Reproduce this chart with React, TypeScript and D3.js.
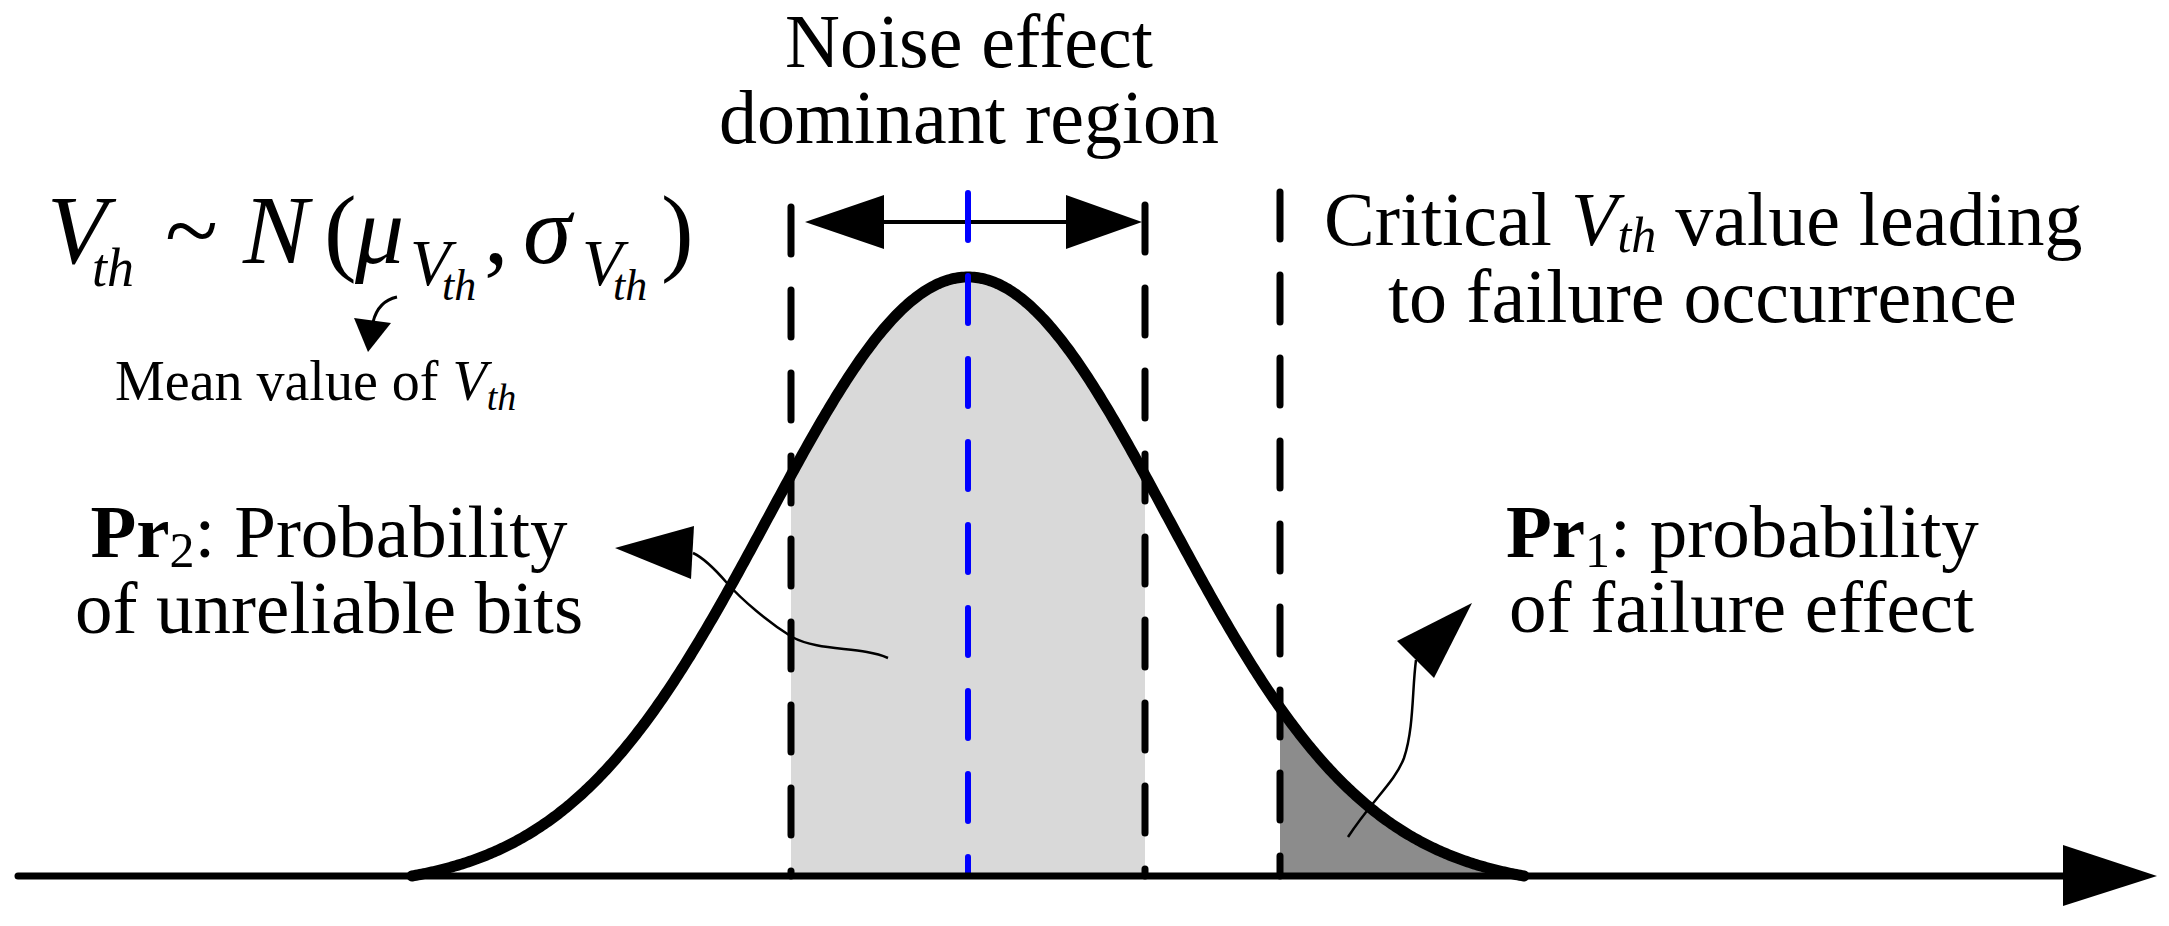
import React from "react";
import * as d3 from "d3";

// ---- data ----
const MU = 0; // mean of V_th (standardised units)
const SIGMA = 1; // std of V_th
const curveExtent = [-2.78, 2.78]; // drawn support of the bell curve (in sigma)
const noiseRegion = [-0.885, 0.885]; // noise-effect dominant region
const criticalV = 1.56; // critical V_th value
const axisDomain = [-4.75, 5.945];

const titleLines = ["Noise effect", "dominant region"];
const criticalLines = ["value leading", "to failure occurrence"];
const pr2Lines = ["Probability", "of unreliable bits"];
const pr1Lines = ["probability", "of failure effect"];
const meanLabel = "Mean value of ";

const W = 2169;
const H = 926;
const FONT = "'Liberation Serif', 'Times New Roman', Times, serif";

export default function App() {
  const x = d3.scaleLinear().domain(axisDomain).range([18, 2157]);
  const y = d3.scaleLinear().domain([0, 1]).range([876, 277]);

  const e0 = Math.exp(-(curveExtent[1] ** 2) / 2);
  const g = (v: number) => {
    const z = (v - MU) / SIGMA;
    return (Math.exp(-(z * z) / 2) - e0) / (1 - e0);
  };
  const samples = (a: number, b: number) => {
    const pts = d3.range(a, b, 0.01);
    pts.push(b);
    return pts;
  };

  const line = d3.line<number>().x((v) => x(v)).y((v) => y(g(v)));
  const area = d3
    .area<number>()
    .x((v) => x(v))
    .y0(y(0))
    .y1((v) => y(g(v)));

  const curvePath = line(samples(curveExtent[0], curveExtent[1])) || "";
  const lightArea = area(samples(noiseRegion[0], noiseRegion[1])) || "";
  const darkArea = area(samples(criticalV, curveExtent[1])) || "";

  const dash = "47 36";
  const vlines = [
    { v: noiseRegion[0], top: 207, color: "#000" },
    { v: noiseRegion[1], top: 205, color: "#000" },
    { v: criticalV, top: 192, color: "#000" },
  ];

  const y0 = y(0);
  const xm = x(MU);

  return (
    <svg
      width={W}
      height={H}
      viewBox={`0 0 ${W} ${H}`}
      style={{ position: "absolute", left: 0, top: 0, display: "block", background: "#fff" }}
      fontFamily={FONT}
    >
      <rect width={W} height={H} fill="#fff" />
      {/* fills */}
      <path d={lightArea} fill="#d9d9d9" />
      <path d={darkArea} fill="#8c8c8c" />

      {/* black dashed region lines */}
      {vlines.map((l, i) => (
        <line
          key={i}
          x1={x(l.v)}
          x2={x(l.v)}
          y1={l.top}
          y2={y0}
          stroke={l.color}
          strokeWidth={7}
          strokeDasharray={dash}
          strokeLinecap="round"
        />
      ))}

      {/* bell curve */}
      <path d={curvePath} fill="none" stroke="#000" strokeWidth={11} strokeLinecap="round" />

      {/* noise region double arrow */}
      <line x1={x(noiseRegion[0]) + 20} x2={x(noiseRegion[1]) - 10} y1={222} y2={222} stroke="#000" strokeWidth={4} />
      <polygon points={`${x(noiseRegion[0]) + 14},222 ${x(noiseRegion[0]) + 93},195 ${x(noiseRegion[0]) + 93},249`} fill="#000" />
      <polygon points={`${x(noiseRegion[1]) - 3},222 ${x(noiseRegion[1]) - 79},195 ${x(noiseRegion[1]) - 79},249`} fill="#000" />

      {/* blue mean line */}
      <line
        x1={xm}
        x2={xm}
        y1={193}
        y2={y0}
        stroke="#0000ff"
        strokeWidth={6}
        strokeDasharray={dash}
        strokeLinecap="round"
      />

      {/* x axis with arrow */}
      <line x1={18} x2={2070} y1={y0} y2={y0} stroke="#000" strokeWidth={7} strokeLinecap="round" />
      <polygon points={`2063,845 2157,${y0} 2063,906`} fill="#000" />

      {/* Pr2 arrow */}
      <path
        d="M888,658 C860,646 820,652 792,637 C768,622 742,600 727,583 C714,568 704,558 693,553"
        fill="none"
        stroke="#000"
        strokeWidth={2.5}
      />
      <polygon points="615,548 694,526 691,579" fill="#000" />

      {/* Pr1 arrow */}
      <path
        d="M1348,837 C1372,800 1395,782 1404,758 C1414,728 1412,690 1416,660"
        fill="none"
        stroke="#000"
        strokeWidth={2.5}
      />
      <polygon points="1472,603 1397,641 1434,678" fill="#000" />

      {/* mean arrow */}
      <path d="M397,297 C383,300 376,310 373,322" fill="none" stroke="#000" strokeWidth={3} />
      <polygon points="354,318 391,323 368,352" fill="#000" />

      {/* title */}
      <text x={969} y={67} fontSize={76} textAnchor="middle">{titleLines[0]}</text>
      <text x={969} y={143} fontSize={76} textAnchor="middle">{titleLines[1]}</text>

      {/* formula */}
      <text fontSize={98} fontStyle="italic">
        <tspan x={47} y={263}>V</tspan>
        <tspan x={92} y={286} fontSize={54}>th</tspan>
        <tspan x={165} y={263} fontStyle="normal">~</tspan>
        <tspan x={243} y={263}>N</tspan>
        <tspan x={324} y={263} fontStyle="normal">(</tspan>
        <tspan x={355} y={263}>μ</tspan>
        <tspan x={410} y={285} fontSize={66}>V</tspan>
        <tspan x={442} y={300} fontSize={44}>th</tspan>
        <tspan x={484} y={263} fontStyle="normal">,</tspan>
        <tspan x={523} y={263}>σ</tspan>
        <tspan x={582} y={285} fontSize={66}>V</tspan>
        <tspan x={613} y={300} fontSize={44}>th</tspan>
        <tspan x={661} y={263} fontStyle="normal">)</tspan>
      </text>

      {/* mean label */}
      <text x={115} y={400} fontSize={56}>
        {meanLabel}
        <tspan fontStyle="italic">V</tspan>
        <tspan fontStyle="italic" fontSize={38} dy={10}>th</tspan>
      </text>

      {/* critical label */}
      <text x={1324} y={245} fontSize={76}>
        Critical{" "}
        <tspan fontStyle="italic">V</tspan>
        <tspan fontStyle="italic" fontSize={50} dy={7}>th</tspan>
        <tspan dy={-7}> {criticalLines[0]}</tspan>
      </text>
      <text x={1388} y={322} fontSize={76}>{criticalLines[1]}</text>

      {/* Pr2 label */}
      <text x={329} y={557} fontSize={75} textAnchor="middle">
        <tspan fontWeight="bold">Pr</tspan>
        <tspan fontSize={50} dy={10}>2</tspan>
        <tspan dy={-10}>: {pr2Lines[0]}</tspan>
      </text>
      <text x={329} y={633} fontSize={75} textAnchor="middle">{pr2Lines[1]}</text>

      {/* Pr1 label */}
      <text x={1506} y={557} fontSize={75}>
        <tspan fontWeight="bold">Pr</tspan>
        <tspan fontSize={50} dy={10}>1</tspan>
        <tspan dy={-10}>: {pr1Lines[0]}</tspan>
      </text>
      <text x={1509} y={632} fontSize={75}>{pr1Lines[1]}</text>
    </svg>
  );
}
